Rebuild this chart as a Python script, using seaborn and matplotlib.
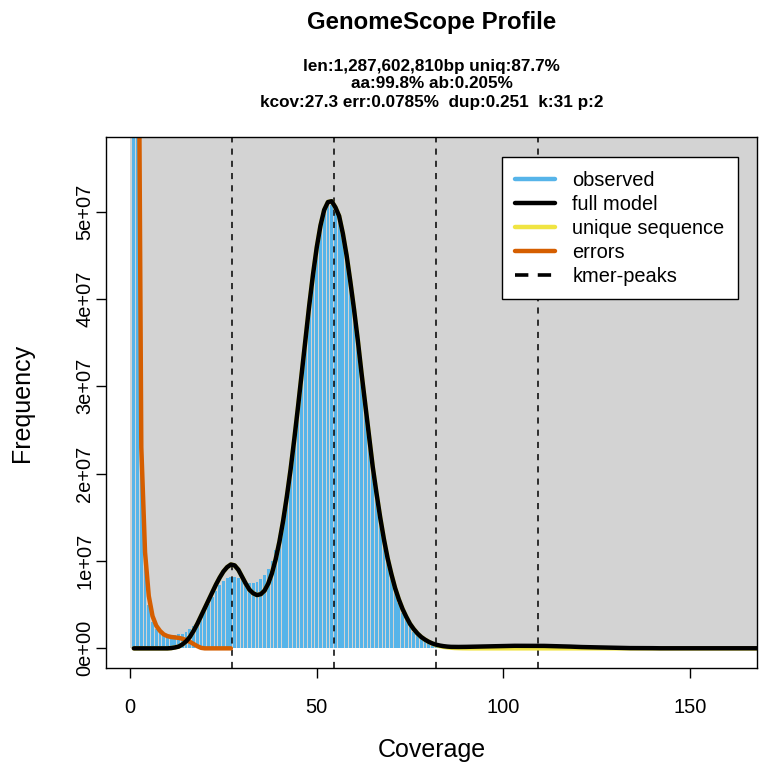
import numpy as np
import pandas as pd
import seaborn as sns
import matplotlib.pyplot as plt
from matplotlib.lines import Line2D
from matplotlib.patches import Rectangle

# k-mer coverage (x) and frequencies, values in units of 1e7
coverage = list(range(1, 171))

observed = [
    30.0, 9.0, 2.2, 1.0, 0.5, 0.3, 0.22, 0.18, 0.16, 0.15,
    0.15, 0.15, 0.16, 0.17, 0.19, 0.22, 0.26, 0.31, 0.37, 0.44,
    0.51, 0.59, 0.66, 0.72, 0.77, 0.8, 0.82, 0.82, 0.8, 0.78,
    0.76, 0.75, 0.75, 0.76, 0.79, 0.84, 0.91, 1.0, 1.13, 1.3,
    1.52, 1.77, 2.05, 2.38, 2.74, 3.12, 3.5, 3.88, 4.23, 4.54,
    4.79, 4.97, 5.06, 5.08, 5.02, 4.9, 4.7, 4.45, 4.15, 3.83,
    3.48, 3.11, 2.75, 2.39, 2.05, 1.74, 1.46, 1.21, 0.99, 0.81,
    0.65, 0.52, 0.41, 0.32, 0.25, 0.19, 0.14, 0.11, 0.08, 0.06,
    0.045, 0.035, 0.028, 0.023, 0.02, 0.018, 0.016, 0.015, 0.014, 0.014,
    0.014, 0.014, 0.014, 0.014, 0.014, 0.014, 0.014, 0.014, 0.014, 0.014,
    0.014, 0.014, 0.014, 0.014, 0.014, 0.014, 0.014, 0.014, 0.014, 0.014,
    0.013, 0.013, 0.013, 0.012, 0.012, 0.012, 0.011, 0.011, 0.011, 0.01,
    0.01, 0.01, 0.009, 0.009, 0.009, 0.008, 0.008, 0.008, 0.007, 0.007,
    0.007, 0.006, 0.006, 0.006, 0.005, 0.005, 0.005, 0.005, 0.004, 0.004,
    0.004, 0.004, 0.004, 0.003, 0.003, 0.003, 0.003, 0.003, 0.003, 0.003,
    0.003, 0.003, 0.002, 0.002, 0.002, 0.002, 0.002, 0.002, 0.002, 0.002,
    0.002, 0.002, 0.002, 0.002, 0.002, 0.002, 0.002, 0.002, 0.002, 0.002,
]

full_model = [
    0, 0, 0, 0, 0, 0, 0, 0, 0, 0,
    0.003, 0.01, 0.02, 0.045, 0.08, 0.13, 0.2, 0.28, 0.37, 0.46,
    0.55, 0.64, 0.73, 0.81, 0.88, 0.93, 0.96, 0.95, 0.9, 0.82,
    0.74, 0.67, 0.63, 0.61, 0.62, 0.66, 0.74, 0.86, 1.02, 1.22,
    1.46, 1.74, 2.05, 2.4, 2.77, 3.16, 3.55, 3.93, 4.28, 4.59,
    4.84, 5.02, 5.11, 5.12, 5.05, 4.95, 4.75, 4.5, 4.2, 3.88,
    3.53, 3.15, 2.79, 2.43, 2.08, 1.78, 1.5, 1.25, 1.03, 0.85,
    0.69, 0.56, 0.45, 0.36, 0.28, 0.22, 0.17, 0.13, 0.1, 0.075,
    0.056, 0.042, 0.032, 0.025, 0.02, 0.017, 0.016, 0.016, 0.016, 0.017,
    0.018, 0.019, 0.02, 0.021, 0.022, 0.023, 0.024, 0.025, 0.026, 0.027,
    0.028, 0.028, 0.029, 0.029, 0.029, 0.029, 0.029, 0.029, 0.029, 0.028,
    0.028, 0.027, 0.026, 0.025, 0.024, 0.023, 0.021, 0.02, 0.018, 0.017,
    0.015, 0.014, 0.012, 0.011, 0.01, 0.009, 0.008, 0.007, 0.006, 0.005,
    0.005, 0.004, 0.004, 0.003, 0.003, 0.003, 0.002, 0.002, 0.002, 0.002,
    0.001, 0.001, 0.001, 0.001, 0.001, 0.001, 0.001, 0.001, 0.001, 0.001,
    0.001, 0.001, 0.001, 0.001, 0.001, 0.001, 0.001, 0.001, 0.001, 0.001,
    0.001, 0.001, 0.001, 0.001, 0.001, 0.001, 0.001, 0.001, 0.001, 0.001,
]

unique_seq = [
    0, 0, 0, 0, 0, 0, 0, 0, 0, 0,
    0.003, 0.01, 0.02, 0.045, 0.08, 0.13, 0.2, 0.28, 0.37, 0.46,
    0.55, 0.64, 0.73, 0.81, 0.88, 0.93, 0.96, 0.95, 0.9, 0.82,
    0.74, 0.67, 0.63, 0.61, 0.62, 0.66, 0.74, 0.86, 1.02, 1.22,
    1.46, 1.74, 2.05, 2.4, 2.77, 3.16, 3.55, 3.93, 4.28, 4.59,
    4.84, 5.02, 5.11, 5.12, 5.05, 4.95, 4.75, 4.5, 4.2, 3.88,
    3.53, 3.15, 2.79, 2.43, 2.08, 1.78, 1.5, 1.25, 1.03, 0.85,
    0.69, 0.56, 0.45, 0.36, 0.28, 0.22, 0.17, 0.13, 0.1, 0.075,
    0.054, 0.038, 0.026, 0.017, 0.011, 0.007, 0.004, 0.002, 0.001, 0.0,
    0.0, 0.0, 0.0, 0.0, 0.0, 0.0, 0.0, 0.0, 0.0, 0.0,
    0.0, 0.0, 0.0, 0.0, 0.0, 0.0, 0.0, 0.0, 0.0, 0.0,
    0.0, 0.0, 0.0, 0.0, 0.0, 0.0, 0.0, 0.0, 0.0, 0.0,
    0.0, 0.0, 0.0, 0.0, 0.0, 0.0, 0.0, 0.0, 0.0, 0.0,
    0.0, 0.0, 0.0, 0.0, 0.0, 0.0, 0.0, 0.0, 0.0, 0.0,
    0.0, 0.0, 0.0, 0.0, 0.0, 0.0, 0.0, 0.0, 0.0, 0.0,
    0.0, 0.0, 0.0, 0.0, 0.0, 0.0, 0.0, 0.0, 0.0, 0.0,
    0.0, 0.0, 0.0, 0.0, 0.0, 0.0, 0.0, 0.0, 0.0, 0.0,
]

err_coverage = list(range(1, 28))
errors = [
    40.0, 9.4, 2.3, 1.1, 0.6, 0.37, 0.26, 0.2, 0.16, 0.14,
    0.13, 0.125, 0.12, 0.11, 0.095, 0.075, 0.05, 0.025, 0.006, 0.0,
    0.0, 0.0, 0.0, 0.0, 0.0, 0.0, 0.0,
]

kmer_peaks = [27.3, 54.6, 81.9, 109.2]

x_ticks = [0, 50, 100, 150]
y_ticks = [0, 1e7, 2e7, 3e7, 4e7, 5e7]
y_tick_labels = ['0e+00', '1e+07', '2e+07', '3e+07', '4e+07', '5e+07']

title = 'GenomeScope Profile'
subtitle = ['len:1,287,602,810bp uniq:87.7%',
            'aa:99.8% ab:0.205%',
            'kcov:27.3 err:0.0785%  dup:0.251  k:31 p:2']

hist_df = pd.DataFrame({'coverage': coverage,
                        'observed': np.array(observed) * 1e7,
                        'full_model': np.array(full_model) * 1e7,
                        'unique_seq': np.array(unique_seq) * 1e7})
err_df = pd.DataFrame({'coverage': err_coverage, 'errors': np.array(errors) * 1e7})

sns.set_theme(style='ticks')
plt.rcParams['font.family'] = ['Liberation Sans', 'DejaVu Sans']
plt.rcParams['text.color'] = 'black'

c_obs = '#56B4E9'
c_unique = '#F0E442'
c_err = '#D55E00'

fig = plt.figure(figsize=(7.7, 7.77), dpi=100)
ax = fig.add_axes([0.13766, 0.14028, 0.84545, 0.6834])

ax.add_patch(Rectangle((0, 0), 1000, 1e9, facecolor='#D3D3D3', edgecolor='none', zorder=0))

sns.histplot(data=hist_df, x='coverage', weights='observed', discrete=True, shrink=0.75,
             color=c_obs, alpha=1, linewidth=0, ax=ax, zorder=2)

for p in kmer_peaks:
    ax.axvline(p, color='black', lw=1.1, linestyle=(0, (4, 4)), zorder=3)

sns.lineplot(data=hist_df, x='coverage', y='unique_seq', color=c_unique, lw=3.2, ax=ax, zorder=4)
sns.lineplot(data=err_df, x='coverage', y='errors', color=c_err, lw=3.2, ax=ax, zorder=5)
sns.lineplot(data=hist_df, x='coverage', y='full_model', color='black', lw=3.2, ax=ax, zorder=6)

ax.set_xlim(-6.46, 167.96)
ax.set_ylim(-0.225e7, 5.855e7)
ax.set_xticks(x_ticks)
ax.set_yticks(y_ticks)
ax.set_yticklabels(y_tick_labels, rotation=90, va='center')
ax.tick_params(direction='out', length=7, width=1, color='black', labelsize=14.4,
               labelcolor='black')
ax.tick_params(axis='x', pad=14.5)
ax.tick_params(axis='y', pad=1.5)
ax.set_xlabel('')
ax.set_ylabel('')
ax.set_facecolor('white')
for s in ax.spines.values():
    s.set_color('black')
    s.set_linewidth(1)
    s.set_zorder(10)

handles = [Line2D([], [], color=c_obs, lw=3.2),
           Line2D([], [], color='black', lw=3.2),
           Line2D([], [], color=c_unique, lw=3.2),
           Line2D([], [], color=c_err, lw=3.2),
           Line2D([], [], color='black', lw=2.6, linestyle=(0, (3.7, 2.6)))]
labels = ['observed', 'full model', 'unique sequence', 'errors', 'kmer-peaks']
leg = ax.legend(handles, labels, loc='upper right', bbox_to_anchor=(0.971, 0.962),
                borderaxespad=0, fontsize=14.4, frameon=True, fancybox=False,
                framealpha=1, edgecolor='black', facecolor='white',
                handlelength=2.0, handletextpad=0.85, labelspacing=0.25, borderpad=0.68)
leg.get_frame().set_linewidth(1)
leg.set_zorder(20)
for t in leg.get_texts():
    t.set_color('black')

fig.text(431.5 / 770, 1 - 750 / 777, 'Coverage', ha='center', va='center', fontsize=18)
fig.text(22 / 770, 1 - 402.5 / 777, 'Frequency', ha='center', va='center', rotation=90, fontsize=18)

fig.text(431.5 / 770, 1 - 23 / 777, title, ha='center', va='center', fontsize=17.3, fontweight='bold')
for i, line in enumerate(subtitle):
    fig.text(431.5 / 770, 1 - (66 + 18 * i) / 777, line, ha='center', va='center',
             fontsize=12.3, fontweight='bold')

fig.savefig('out.png', dpi=100)
